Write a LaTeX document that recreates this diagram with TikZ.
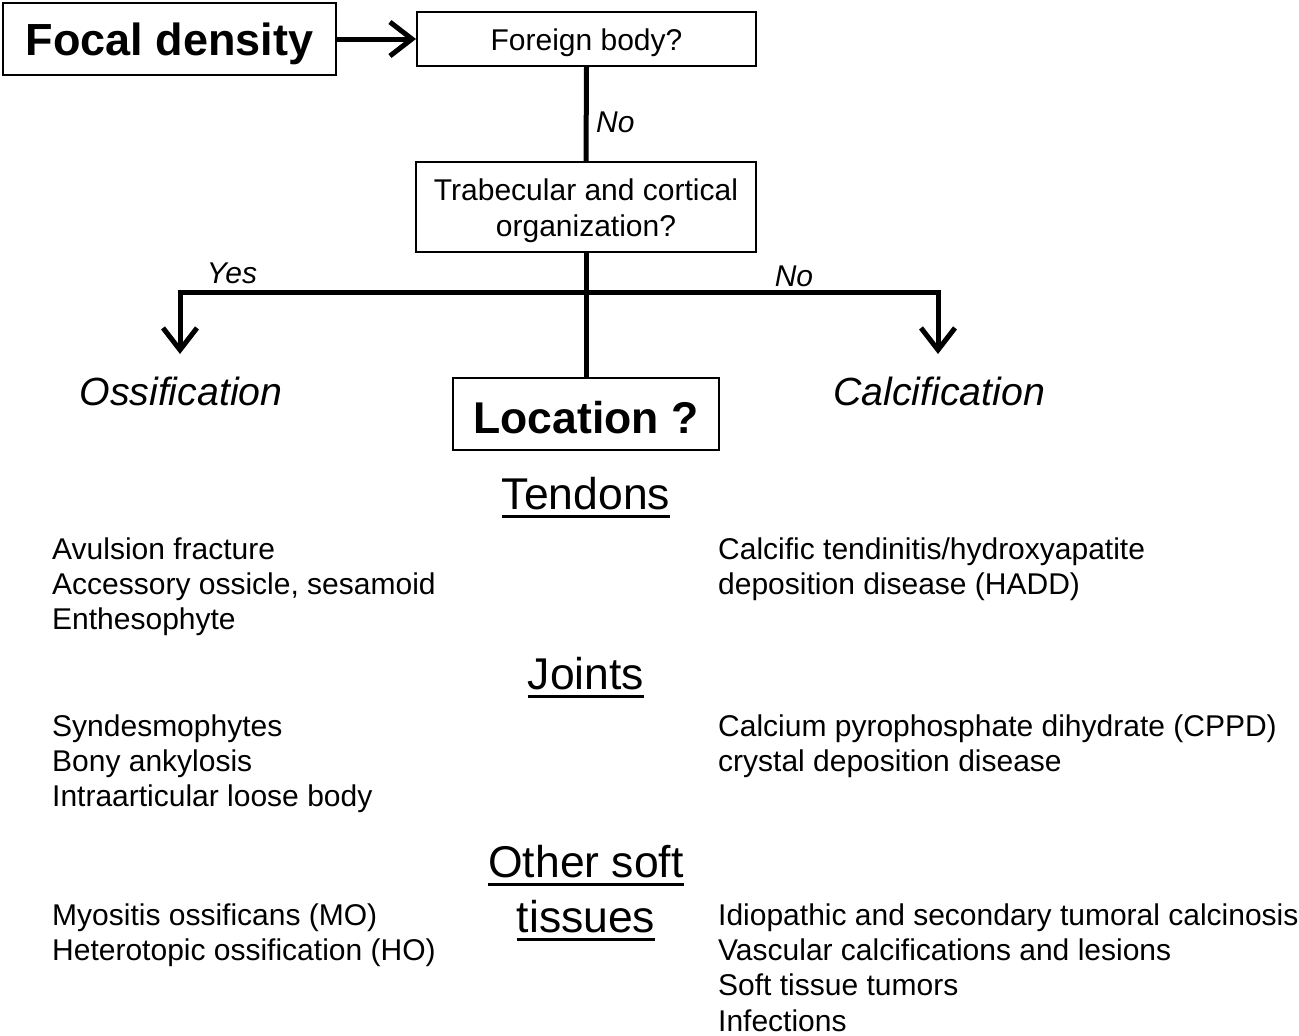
\documentclass[tikz,border=0pt]{standalone}
\usepackage{fontspec}
\setmainfont{Liberation Sans}
\usetikzlibrary{arrows.meta}
\begin{document}
\begin{tikzpicture}[x=1pt,y=-1pt,
  box/.style={draw, line width=2pt, inner sep=0pt, align=center},
  conn/.style={line width=5pt, line join=miter},
  arr/.style={line width=5pt, line join=miter, -{Straight Barb[length=22pt,width=34pt]}},
  item/.style={anchor=base west, inner sep=0pt, font=\fontsize{30}{35}\selectfont},
  head/.style={anchor=base, inner sep=0pt, font=\fontsize{44.5}{50}\selectfont},
  lab/.style={inner sep=0pt, font=\itshape\fontsize{30}{35}\selectfont},
  cat/.style={inner sep=0pt, font=\itshape\fontsize{39.3}{45}\selectfont},
  uline/.style={line width=3pt},
]
\useasboundingbox (0,0) rectangle (1299,1036);

% boxes
\node[box, minimum width=333pt, minimum height=72pt, text height=36pt, text depth=2.5pt, font=\bfseries\fontsize{45}{50}\selectfont] (focal) at (169.5,39) {Focal density};
\node[box, minimum width=339pt, minimum height=54pt, text height=26pt, text depth=3pt, font=\fontsize{30}{35}\selectfont] (foreign) at (586.5,39) {Foreign body?};
\node[box, minimum width=340pt, minimum height=90pt] (trab) at (586,207) {};
\node[inner sep=0pt, align=center, font=\fontsize{30}{36}\selectfont] (trabtext) at (586,211) {Trabecular and cortical\\organization?};
\node[box, minimum width=266pt, minimum height=72pt, text height=39pt, text depth=0pt, font=\bfseries\fontsize{44.5}{50}\selectfont] (loc) at (586,414) {Location ?};

% connectors
\draw[arr] (focal.east) -- (foreign.west);
\draw[conn] (foreign.south) -- (trab.north);
\node[lab, anchor=west] (no1) at (596,122) {No};
\draw[conn] (trab.south) -- (loc.north);

\coordinate (jm) at (586,292);
\coordinate (jl) at (180,292);
\coordinate (jr) at (938,292);
\coordinate (tl) at (180,354);
\coordinate (tr) at (938,354);
\draw[arr] (jm) -- (jl) -- (tl);
\draw[arr] (jm) -- (jr) -- (tr);
\node[lab] (yes) at (232,273) {Yes};
\node[lab] (no2) at (794,276) {No};

\node[cat] (oss) at (181,391) {Ossification};
\node[cat] (calc) at (939,391) {Calcification};

% headings
\node[head] (tend) at (586,509) {Tendons};
\draw[uline] ([yshift=-7pt]tend.base west) -- ([yshift=-7pt]tend.base east);
\node[head] (joint) at (586,689) {Joints};
\draw[uline] ([yshift=-7pt]joint.base west) -- ([yshift=-7pt]joint.base east);
\node[head] (oth1) at (586,877) {Other soft};
\draw[uline] ([yshift=-7pt]oth1.base west) -- ([yshift=-7pt]oth1.base east);
\node[head] (oth2) at (586,932) {tissues};
\draw[uline] ([yshift=-7pt]oth2.base west) -- ([yshift=-7pt]oth2.base east);

% tendons lists
\node[item] (t1) at (52,559) {Avulsion fracture};
\node[item] (t2) at (52,594) {Accessory ossicle, sesamoid};
\node[item] (t3) at (52,629) {Enthesophyte};
\node[item] (t4) at (718,559) {Calcific tendinitis/hydroxyapatite};
\node[item] (t5) at (718,594) {deposition disease (HADD)};

% joints lists
\node[item] (j1) at (52,736) {Syndesmophytes};
\node[item] (j2) at (52,771) {Bony ankylosis};
\node[item] (j3) at (52,806) {Intraarticular loose body};
\node[item] (j4) at (718,736) {Calcium pyrophosphate dihydrate (CPPD)};
\node[item] (j5) at (718,771) {crystal deposition disease};

% other soft tissues lists
\node[item] (o1) at (52,925) {Myositis ossificans (MO)};
\node[item] (o2) at (52,960) {Heterotopic ossification (HO)};
\node[item] (o3) at (718,925) {Idiopathic and secondary tumoral calcinosis};
\node[item] (o4) at (718,960) {Vascular calcifications and lesions};
\node[item] (o5) at (718,995) {Soft tissue tumors};
\node[item] (o6) at (718,1031) {Infections};
\end{tikzpicture}
\end{document}
